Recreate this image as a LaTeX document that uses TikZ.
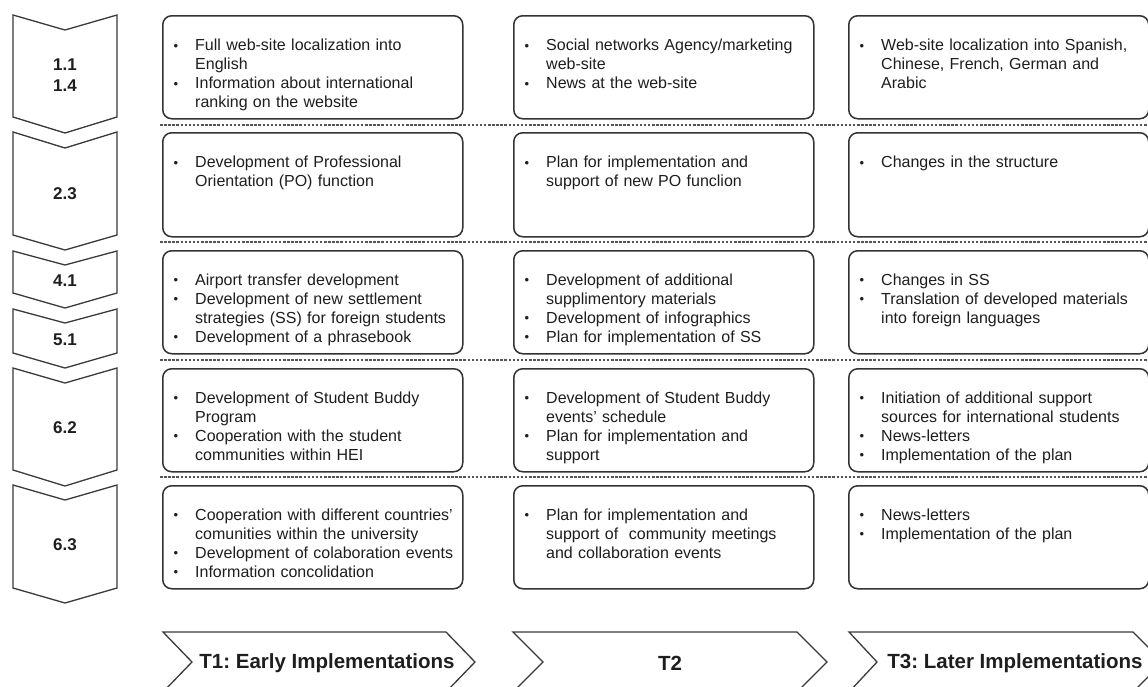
\documentclass[tikz,border=0pt]{standalone}
\usepackage{fontspec}
\setmainfont{Liberation Sans}
\definecolor{boxc}{HTML}{333333}
\definecolor{chevc}{HTML}{3A3A3A}
\definecolor{sepc}{HTML}{555555}
\definecolor{textc}{HTML}{1E1E1E}
\newcommand{\itm}[1]{\par\noindent\hangindent=23pt\hangafter=1\rule{0pt}{14pt}\makebox[23pt][l]{\hspace{1.5pt}\raisebox{0.3pt}{\fontsize{13}{13}\selectfont\textbullet}}#1\par}
\tikzset{
  box/.style={draw=boxc, line width=1.5pt, rounded corners=9pt, minimum width=300pt, anchor=north west, inner sep=0pt},
  txt/.style={anchor=north west, inner sep=0pt, text width=305pt, align=left, font=\fontsize{16}{19}\selectfont\frenchspacing, text=textc},
  chev/.style={draw=chevc, line width=1.3pt, line join=miter, fill=white},
  sep/.style={draw=sepc, line width=1.3pt, dash pattern=on 2.5pt off 1.6pt},
  lbl/.style={font=\bfseries\fontsize{17}{21}\selectfont, align=center, text=textc, inner sep=0pt},
  tlbl/.style={font=\bfseries\fontsize{20.5}{24}\selectfont\frenchspacing, text=textc, inner sep=0pt},
}
\begin{document}
\frenchspacing
\begin{tikzpicture}[x=1pt,y=-1pt]
\useasboundingbox (0,0) rectangle (1148,686);
\fill[white] (0,0) rectangle (1148,686);

% left chevrons
\draw[chev] (13,15) -- (65,30) -- (117,15) -- (117,117) -- (65,133) -- (13,117) -- cycle;
\draw[chev] (13,132) -- (65,148) -- (117,132) -- (117,235) -- (65,250) -- (13,235) -- cycle;
\draw[chev] (13,251) -- (65,265) -- (117,251) -- (117,293) -- (65,308) -- (13,293) -- cycle;
\draw[chev] (13,309) -- (65,323) -- (117,309) -- (117,353) -- (65,368) -- (13,353) -- cycle;
\draw[chev] (13,368) -- (65,383) -- (117,368) -- (117,470) -- (65,486) -- (13,470) -- cycle;
\draw[chev] (13,485) -- (65,500) -- (117,485) -- (117,588) -- (65,603) -- (13,588) -- cycle;
\node[lbl] (l1) at (65,75) {1.1\\1.4};
\node[lbl] (l2) at (65,194) {2.3};
\node[lbl] (l3) at (65,281) {4.1};
\node[lbl] (l4) at (65,340) {5.1};
\node[lbl] (l5) at (65,428) {6.2};
\node[lbl] (l6) at (65,545) {6.3};

% separators
\draw[sep] (160,125) -- (1148,125);
\draw[sep] (160,242) -- (1148,242);
\draw[sep] (160,360) -- (1148,360);
\draw[sep] (160,477) -- (1148,477);

% boxes
\foreach \c/\x in {1/162,2/513,3/848}{
  \node[box, minimum height=103pt] (b1\c) at (\x,15) {};
  \node[box, minimum height=104pt] (b2\c) at (\x,132) {};
  \node[box, minimum height=103pt] (b3\c) at (\x,250) {};
  \node[box, minimum height=103pt] (b4\c) at (\x,368) {};
  \node[box, minimum height=103pt] (b5\c) at (\x,485) {};
}

% row 1
\node[txt] (t11) at (172,31.5) {\itm{Full web-site localization into\newline English}\itm{Information about international\newline ranking on the website}};
\node[txt] (t12) at (523,31.5) {\itm{Social networks Agency/marketing\newline web-site}\itm{News at the web-site}};
\node[txt] (t13) at (858,31.5) {\itm{Web-site localization into Spanish,\newline Chinese, French, German and\newline Arabic}};
% row 2
\node[txt] (t21) at (172,148.5) {\itm{Development of Professional\newline Orientation (PO) function}};
\node[txt] (t22) at (523,148.5) {\itm{Plan for implementation and\newline support of new PO funclion}};
\node[txt] (t23) at (858,148.5) {\itm{Changes in the structure}};
% row 3
\node[txt] (t31) at (172,266) {\itm{Airport transfer development}\itm{Development of new settlement\newline strategies (SS) for foreign students}\itm{Development of a phrasebook}};
\node[txt] (t32) at (523,266) {\itm{Development of additional\newline supplimentory materials}\itm{Development of infographics}\itm{Plan for implementation of SS}};
\node[txt] (t33) at (858,266) {\itm{Changes in SS}\itm{Translation of developed materials\newline into foreign languages}};
% row 4
\node[txt] (t41) at (172,384) {\itm{Development of Student Buddy\newline Program}\itm{Cooperation with the student\newline communities within HEI}};
\node[txt] (t42) at (523,384) {\itm{Development of Student Buddy\newline events' schedule}\itm{Plan for implementation and\newline support}};
\node[txt] (t43) at (858,384) {\itm{Initiation of additional support\newline sources for international students}\itm{News-letters}\itm{Implementation of the plan}};
% row 5
\node[txt] (t51) at (172,501) {\itm{Cooperation with different countries'\newline comunities within the university}\itm{Development of colaboration events}\itm{Information concolidation}};
\node[txt] (t52) at (523,501) {\itm{Plan for implementation and\newline support of \ community meetings\newline and collaboration events}};
\node[txt] (t53) at (858,501) {\itm{News-letters}\itm{Implementation of the plan}};

% bottom chevrons
\begin{scope}
\clip (0,0) rectangle (1148,686);
\draw[chev] (163,632) -- (446,632) -- (475,662) -- (446,692) -- (163,692) -- (192,662) -- cycle;
\draw[chev] (513,632) -- (797,632) -- (827,662) -- (797,692) -- (513,692) -- (543,662) -- cycle;
\draw[chev] (849,632) -- (1133,632) -- (1163,662) -- (1133,692) -- (849,692) -- (877,662) -- cycle;
\end{scope}
\node[tlbl] (p1) at (327,663) {T1: Early Implementations};
\node[tlbl] (p2) at (670,663) {T2};
\node[tlbl] (p3) at (1015,663) {T3: Later Implementations};
\end{tikzpicture}
\end{document}
